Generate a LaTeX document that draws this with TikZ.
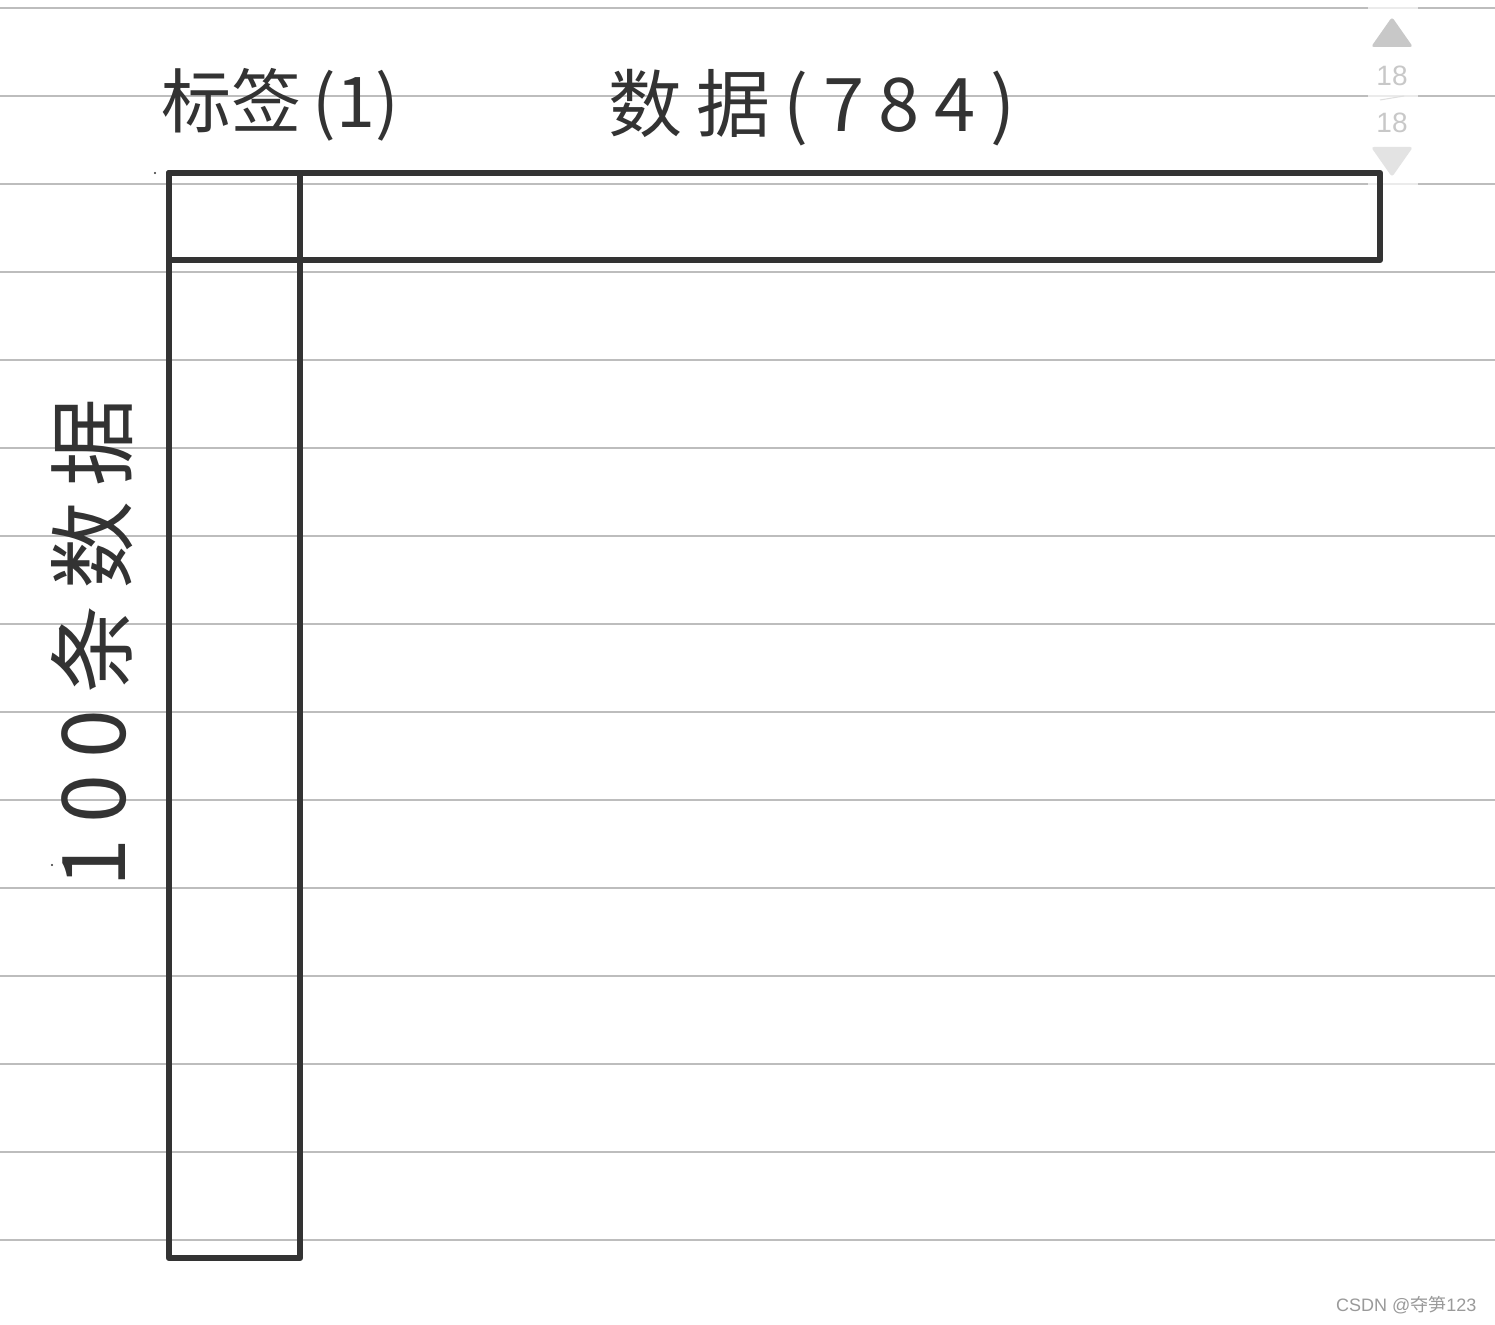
\documentclass[tikz,border=0pt]{standalone}
\usepackage{fontspec}
\newfontfamily\cjk{Noto Sans CJK SC}
\setmainfont{Liberation Sans}
\definecolor{ink}{HTML}{333333}
\definecolor{rule}{HTML}{BDBDBD}
\definecolor{scrollgray}{HTML}{C8C8C8}
\definecolor{marktext}{HTML}{9A9A9A}
\tikzset{
  ruleline/.style={draw=rule, line width=1.2pt},
  frame/.style={draw=ink, line width=6.5pt, line join=round},
  hand/.style={text=ink, font=\cjk\fontsize{70}{80}\selectfont, inner sep=0pt},
}
\begin{document}
\begin{tikzpicture}[x=1pt,y=-1pt]
\useasboundingbox (0,0) rectangle (1495,1324);
\fill[white] (0,0) rectangle (1495,1324);
% ruled paper
\foreach \yy in {8,96,184,272,360,448,536,624,712,800,888,976,1064,1152,1240}
  \draw[ruleline] (0,\yy) -- (1495,\yy);
% scroll indicator
\fill[white, opacity=0.7] (1368,0) rectangle (1418,195);
\fill[scrollgray, rounded corners=3pt] (1371,47) -- (1392,17) -- (1413,47) -- cycle;
\node[text=scrollgray, font=\fontsize{28}{30}\selectfont] (n1) at (1392,76) {18};
\draw[scrollgray!60, line width=1pt] (1380,100) -- (1404,96);
\node[text=scrollgray, font=\fontsize{28}{30}\selectfont] (n2) at (1392,123) {18};
\fill[scrollgray!50, rounded corners=3pt] (1371,147) -- (1413,147) -- (1392,177) -- cycle;
% frames
\coordinate (tl) at (169,173);
\coordinate (br) at (1380,260);
\coordinate (div) at (300,1258);
\draw[frame] (tl) rectangle (br);
\draw[frame] (tl) rectangle (div);
% labels
\node[hand] (lab) at (280,105) {标签\,(1)};
\node[hand, font=\cjk\fontsize{74}{80}\selectfont\addfontfeatures{LetterSpace=20}] (dat) at (812,108) {数据\,(784)};
\node[hand, rotate=90, font=\cjk\fontsize{88}{90}\selectfont\addfontfeatures{LetterSpace=18}] (rows) at (92,643) {100条数据};
% stray dots
\fill[ink] (155,173) circle (1.2);
\fill[ink] (52,865) circle (1.2);
% watermark
\node[text=marktext, font=\fontsize{18}{20}\selectfont, anchor=east] (wm) at (1480,1305) {CSDN @{\cjk 夺笋}123};
\end{tikzpicture}
\end{document}
